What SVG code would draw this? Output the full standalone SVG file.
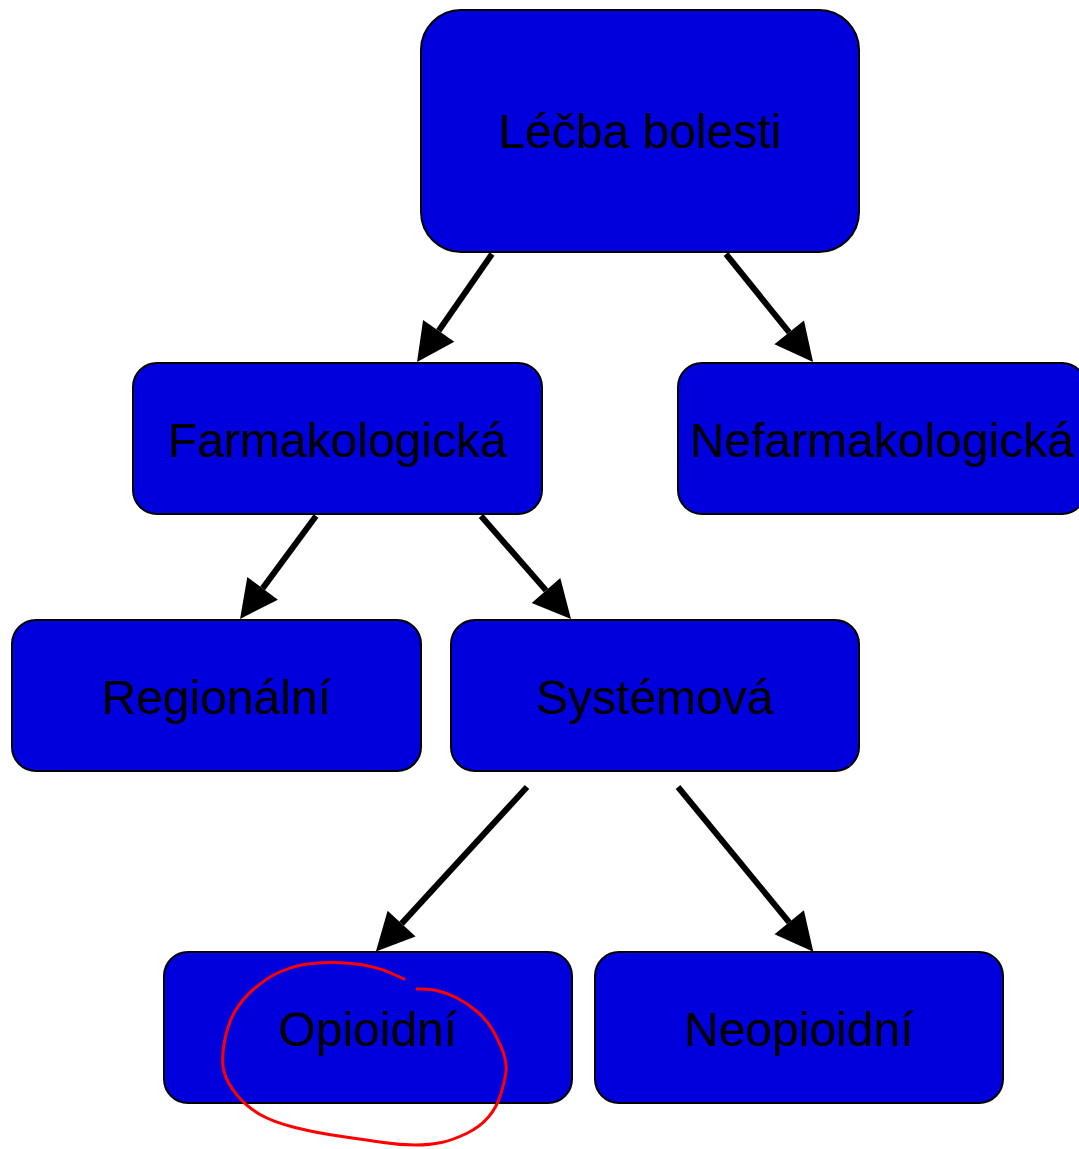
<svg xmlns="http://www.w3.org/2000/svg" width="1079" height="1149" viewBox="0 0 1079 1149">
<style>
.node rect{fill:#0000dd;stroke:#000;stroke-width:2}
.node text{font-family:"Liberation Sans",Arial,sans-serif;font-size:48px;fill:#000;text-anchor:middle}
.edge{stroke:#000;stroke-width:6;fill:none}
</style>
<defs>
<marker id="ah" markerUnits="userSpaceOnUse" markerWidth="40" markerHeight="40" refX="0" refY="19" orient="auto" overflow="visible">
<path d="M0,0 L38,19 L0,38 z" fill="#000"/>
</marker>
</defs>
<rect width="1079" height="1149" fill="#fff"/>
<g id="connectors">
<line class="edge" x1="492" y1="254" x2="438.7" y2="330.8" marker-end="url(#ah)"/>
<line class="edge" x1="726" y1="254" x2="789.2" y2="332.4" marker-end="url(#ah)"/>
<line class="edge" x1="316" y1="516" x2="262.6" y2="588.4" marker-end="url(#ah)"/>
<line class="edge" x1="481" y1="516" x2="546" y2="590.4" marker-end="url(#ah)"/>
<line class="edge" x1="527" y1="787" x2="401.6" y2="923.6" marker-end="url(#ah)"/>
<line class="edge" x1="678" y1="787" x2="789.2" y2="922.3" marker-end="url(#ah)"/>
</g>
<g id="n-lecba" class="node"><rect x="421" y="10" width="438" height="242" rx="40"/><text x="640" y="148">Léčba bolesti</text></g>
<g id="n-farm" class="node"><rect x="133" y="363" width="409" height="151" rx="24"/><text x="337.5" y="457">Farmakologická</text></g>
<g id="n-nefarm" class="node"><rect x="678" y="363" width="408" height="151" rx="24"/><text x="882" y="457">Nefarmakologická</text></g>
<g id="n-reg" class="node"><rect x="12" y="620" width="409" height="151" rx="24"/><text x="216.5" y="714">Regionální</text></g>
<g id="n-sys" class="node"><rect x="451" y="620" width="408" height="151" rx="24"/><text x="655" y="714">Systémová</text></g>
<g id="n-opi" class="node"><rect x="164" y="952" width="408" height="151" rx="24"/><text x="368" y="1046">Opioidní</text></g>
<g id="n-neo" class="node"><rect x="595" y="952" width="408" height="151" rx="24"/><text x="799" y="1046">Neopioidní</text></g>
<path id="highlight" d="M404,979 L392,973.5 Q380,968 363.5,965 Q347,962 330,962.5 Q313,963 301.5,965 Q290,967 278.5,972.5 Q267,978 255,988 Q243,998 235.5,1010.5 Q228,1023 224.5,1041.5 Q221,1060 224,1071.5 Q227,1083 237,1095 Q247,1107 260,1114.5 Q273,1122 295,1127.5 Q317,1133 342,1136.5 Q367,1140 383.5,1142.5 Q400,1145 415,1145 Q430,1145 441.5,1142.5 Q453,1140 466.5,1133.5 Q480,1127 488.5,1117 Q497,1107 501,1093.5 Q505,1080 506,1071.5 Q507,1063 503.5,1053 Q500,1043 493.5,1031.5 Q487,1020 477,1011.5 Q467,1003 457,998 Q447,993 438.5,991 Q430,989 423.5,989 L417,989" fill="none" stroke="#ff0000" stroke-width="3" stroke-linecap="round" stroke-linejoin="round"/>
</svg>
